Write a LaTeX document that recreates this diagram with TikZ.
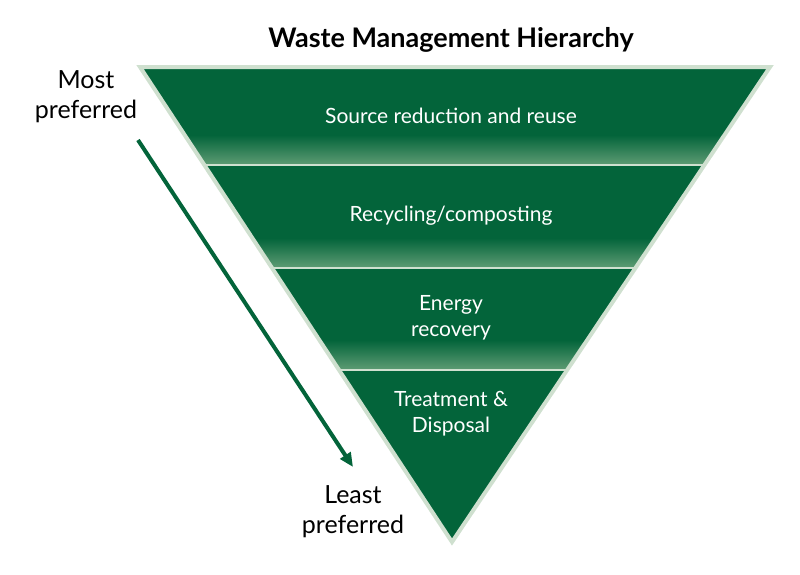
\documentclass[tikz,border=0pt]{standalone}
\usepackage{fontspec}
\setmainfont{Lato}
\usetikzlibrary{arrows.meta}
\definecolor{dg}{HTML}{03643A}
\definecolor{lg}{HTML}{5E9C74}
\definecolor{edge}{HTML}{CFE0CF}
\begin{document}
\begin{tikzpicture}[x=1pt,y=-1pt,
  band/.style={font=\fontsize{21}{26}\selectfont,text=white,align=center},
  side/.style={font=\fontsize{25}{30}\selectfont,align=center,text=black}]
\useasboundingbox (0,0) rectangle (800,574);
\coordinate (TL) at (140,67); \coordinate (TR) at (770,67); \coordinate (AP) at (452,542);
\begin{scope}
\clip (TL) -- (TR) -- (AP) -- cycle;
\fill[dg] (0,60) rectangle (800,560);
\foreach \b in {165,268,370}{
  \shade[top color=dg,bottom color=lg] (0,\b-30) rectangle (800,\b);
}
\foreach \b in {165,268,370}{
  \draw[edge,line width=2] (0,\b) -- (800,\b);
}
\end{scope}
\draw[edge,line width=4,line join=miter] (TL) -- (TR) -- (AP) -- cycle;
\node[font=\bfseries\fontsize{27}{32}\selectfont] (title) at (451,40) {Waste Management Hierarchy};
\node[band] (b1) at (451,116) {Source reduction and reuse};
\node[band] (b2) at (451,216) {Recycling/composting};
\node[band] (b3) at (451,318) {Energy\\recovery};
\node[band] (b4) at (451,414) {Treatment \&\\Disposal};
\node[side] (most) at (86,97) {Most\\preferred};
\node[side] (least) at (353,512) {Least\\preferred};
\coordinate (a1) at (138,140); \coordinate (a2) at (353,467);
\draw[dg,line width=4,-{Triangle[length=14pt,width=12pt]}] (a1) -- (a2);
\end{tikzpicture}
\end{document}
